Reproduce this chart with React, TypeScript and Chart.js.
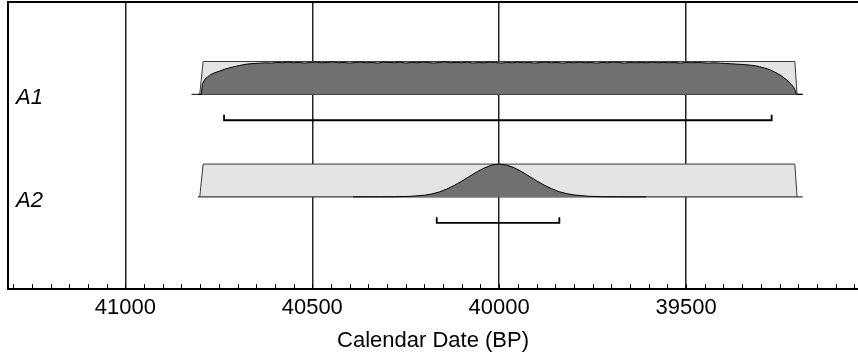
import React, { useEffect, useRef } from 'react';
import { Chart, registerables } from 'chart.js';

Chart.register(...registerables);

// ---------- data ----------
const ROW_LABELS = ['A1', 'A2'];
const TICK_YEARS = [41000, 40500, 40000, 39500];
const AXIS_MIN = 39040;
const AXIS_MAX = 41314;
const MINOR_STEP = 50;
const AXIS_TITLE = 'Calendar Date (BP)';

// prior (uniform box) for both rows
const A1_PRIOR_YEARS = [40801, 40792, 39209, 39203];
const A1_PRIOR_DENS = [0, 1, 1, 0];
const A1_PRIOR_BASE = [40806, 39188];
const A2_PRIOR_YEARS = [40801, 40792, 39209, 39203];
const A2_PRIOR_DENS = [0, 1, 1, 0];
const A2_PRIOR_BASE = [40806, 39188];

// A1 posterior
const A1_POST_YEARS = [
  40823, 40797, 40794, 40788, 40780, 40772, 40760, 40747, 40733, 40720, 40706, 40694, 40680,
  40667, 40653, 40640, 40625, 40610, 40595, 40580, 40565, 40550, 40535, 40520, 40505, 40490,
  40475, 40460, 40445, 40430, 40415, 40400, 40385, 40370, 40355, 40340, 40325, 40310, 40295,
  40280, 40265, 40250, 40235, 40220, 40205, 40190, 40175, 40160, 40145, 40130, 40115, 40100,
  40085, 40070, 40055, 40040, 40025, 40010, 39995, 39980, 39965, 39950, 39935, 39920, 39905,
  39890, 39875, 39860, 39845, 39830, 39815, 39800, 39785, 39770, 39755, 39740, 39725, 39710,
  39695, 39680, 39665, 39650, 39635, 39620, 39605, 39590, 39575, 39560, 39545, 39530, 39515,
  39500, 39485, 39470, 39455, 39440, 39425, 39410, 39395, 39380, 39365, 39350, 39330, 39315,
  39303, 39290, 39276, 39263, 39250, 39240, 39232, 39225, 39218, 39212, 39209, 39205, 39188,
];
const A1_POST_DENS = [
  0, 0, 0.3, 0.45, 0.53, 0.6, 0.66, 0.71, 0.77, 0.81, 0.85, 0.88, 0.91,
  0.93, 0.94, 0.95, 0.96, 0.95, 0.97, 0.96, 0.98, 0.96, 0.97, 0.95, 0.97, 0.98,
  0.96, 0.97, 0.99, 0.96, 0.97, 0.95, 0.97, 0.98, 0.96, 0.97, 0.95, 0.98, 0.97,
  0.96, 0.98, 0.95, 0.97, 0.96, 0.98, 0.97, 0.95, 0.97, 0.99, 0.96, 0.97, 0.96,
  0.98, 0.95, 0.97, 0.96, 0.98, 0.97, 0.95, 0.97, 0.96, 0.98, 0.96, 0.97, 0.95,
  0.97, 0.98, 0.96, 0.97, 0.95, 0.97, 0.96, 0.98, 0.96, 0.97, 0.95, 0.97, 0.96,
  0.98, 0.97, 0.95, 0.97, 0.96, 0.97, 0.96, 0.98, 0.96, 0.97, 0.96, 0.97, 0.95,
  0.97, 0.96, 0.97, 0.96, 0.95, 0.96, 0.95, 0.94, 0.93, 0.92, 0.91, 0.89, 0.87,
  0.84, 0.8, 0.75, 0.68, 0.6, 0.52, 0.45, 0.38, 0.3, 0.21, 0.15, 0, 0,
];

// A2 posterior
const A2_POST_YEARS = [
  40391, 40360, 40320, 40280, 40240, 40200, 40180, 40160, 40140, 40120, 40100, 40080, 40060,
  40040, 40020, 40000, 39980, 39960, 39940, 39920, 39900, 39880, 39860, 39840, 39820, 39800,
  39760, 39720, 39680, 39640, 39607,
];
const A2_POST_DENS = [
  0, 0.001, 0.002, 0.004, 0.015, 0.05, 0.09, 0.15, 0.24, 0.35, 0.48, 0.62, 0.76,
  0.88, 0.97, 1.0, 0.97, 0.89, 0.77, 0.63, 0.49, 0.36, 0.25, 0.16, 0.1, 0.06,
  0.017, 0.004, 0.001, 0, 0,
];

// 95.4% ranges (brackets)
const A1_RANGE = [40736, 39271];
const A2_RANGE = [40167, 39839];

// ---------- layout constants ----------
const FONT = '"Liberation Sans", Arial, Helvetica, sans-serif';
const Y_MAX = 2.8;
const BASE_OFFSET = 0.9;
const DENS_HEIGHT = 0.32;
const BRACKET_OFFSET = 0.253;
const BRACKET_TICK = 0.054;
const MINOR_LEN = 5;

const ROWS = [
  { priorYears: A1_PRIOR_YEARS, priorDens: A1_PRIOR_DENS, priorBase: A1_PRIOR_BASE, postYears: A1_POST_YEARS, postDens: A1_POST_DENS, range: A1_RANGE },
  { priorYears: A2_PRIOR_YEARS, priorDens: A2_PRIOR_DENS, priorBase: A2_PRIOR_BASE, postYears: A2_POST_YEARS, postDens: A2_POST_DENS, range: A2_RANGE },
];

const overlayPlugin = {
  id: 'overlay',
  afterDraw(chart: any) {
    const { ctx, chartArea: a, scales } = chart;
    const x = scales.x;
    const y = scales.y;
    ctx.save();
    // minor ticks pointing inward
    ctx.strokeStyle = '#000';
    ctx.lineWidth = 1;
    const lo = Math.ceil(Math.min(x.min, x.max) / MINOR_STEP) * MINOR_STEP;
    const hi = Math.max(x.min, x.max);
    for (let v = lo; v <= hi; v += MINOR_STEP) {
      const px = Math.round(x.getPixelForValue(v)) + 0.5;
      ctx.beginPath();
      ctx.moveTo(px, a.bottom);
      ctx.lineTo(px, a.bottom - MINOR_LEN);
      ctx.stroke();
    }
    // frame (left + top)
    ctx.lineWidth = 2;
    ctx.beginPath();
    ctx.moveTo(a.left, a.bottom);
    ctx.lineTo(a.left, a.top);
    ctx.lineTo(a.right, a.top);
    ctx.stroke();
    // row labels
    ctx.font = `italic 22px ${FONT}`;
    ctx.fillStyle = '#000';
    ctx.textBaseline = 'alphabetic';
    ctx.textAlign = 'left';
    ROW_LABELS.forEach((t, i) => {
      ctx.fillText(t, a.left + 8, y.getPixelForValue(i + BASE_OFFSET) + 10);
    });
    ctx.restore();
  },
};

export default function App() {
  const ref = useRef<HTMLCanvasElement>(null);

  useEffect(() => {
    const canvas = ref.current;
    if (!canvas) return;
    const datasets: any[] = [];
    ROWS.forEach((r, i) => {
      const base = i + BASE_OFFSET;
      const yOf = (d: number) => base - d * DENS_HEIGHT;
      datasets.push({
        label: ROW_LABELS[i] + ' prior',
        data: r.priorYears.map((yr, k) => ({ x: yr, y: yOf(r.priorDens[k]) })),
        fill: { value: base },
        backgroundColor: '#e4e4e4',
        borderColor: '#3a3a3a',
        borderWidth: 1,
        pointRadius: 0,
        tension: 0,
        order: 4,
      });
      datasets.push({
        label: ROW_LABELS[i] + ' base',
        data: r.priorBase.map((yr) => ({ x: yr, y: base })),
        fill: false,
        borderColor: '#3a3a3a',
        borderWidth: 1.2,
        pointRadius: 0,
        order: 3,
      });
      datasets.push({
        label: ROW_LABELS[i] + ' posterior',
        data: r.postYears.map((yr, k) => ({ x: yr, y: yOf(r.postDens[k]) })),
        fill: { value: base },
        backgroundColor: '#707070',
        borderColor: '#000',
        borderWidth: 1,
        pointRadius: 0,
        tension: 0,
        order: 2,
      });
      const by = base + BRACKET_OFFSET;
      datasets.push({
        label: ROW_LABELS[i] + ' range',
        data: [
          { x: r.range[0], y: by - BRACKET_TICK },
          { x: r.range[0], y: by },
          { x: r.range[1], y: by },
          { x: r.range[1], y: by - BRACKET_TICK },
        ],
        fill: false,
        borderColor: '#000',
        borderWidth: 1.8,
        pointRadius: 0,
        order: 1,
      });
    });

    const chart = new Chart(canvas, {
      type: 'line',
      data: { datasets },
      options: {
        animation: false,
        responsive: false,
        devicePixelRatio: 1,
        events: [],
        layout: { padding: { left: 8, right: 0, top: 2, bottom: 2 } },
        plugins: { legend: { display: false }, tooltip: { enabled: false } },
        scales: {
          x: {
            type: 'linear',
            reverse: true,
            min: AXIS_MIN,
            max: AXIS_MAX,
            z: 1,
            afterBuildTicks: (s: any) => {
              s.ticks = TICK_YEARS.map((v) => ({ value: v }));
            },
            grid: { color: '#222', lineWidth: 1.5, drawTicks: false },
            border: { color: '#000', width: 2 },
            ticks: {
              callback: (v: any) => String(v),
              color: '#000',
              font: { family: FONT, size: 22 },
              padding: 6,
              maxRotation: 0,
              autoSkip: false,
            },
            title: {
              display: true,
              text: AXIS_TITLE,
              color: '#000',
              font: { family: FONT, size: 22 },
              padding: { top: 0, bottom: 0 },
            },
          },
          y: { type: 'linear', display: false, min: 0, max: Y_MAX, reverse: true },
        },
      } as any,
      plugins: [overlayPlugin],
    });
    return () => chart.destroy();
  }, []);

  return (
    <div style={{ position: 'absolute', left: 0, top: 0, width: 858, height: 356 }}>
      <canvas ref={ref} width={858} height={356} style={{ display: 'block' }} />
    </div>
  );
}
